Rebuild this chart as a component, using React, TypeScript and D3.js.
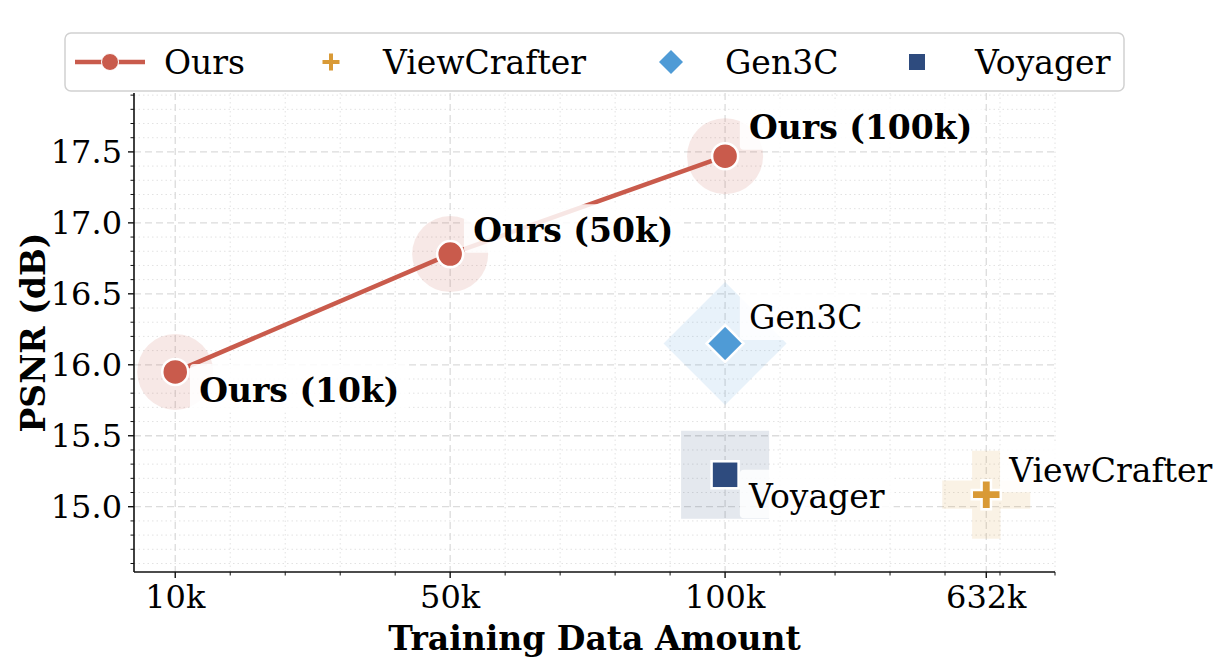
import React from "react";
import * as d3 from "d3";

// data
const tickLabels = ["10k", "50k", "100k", "632k"];
const tickPos = [0, 1, 2, 2.95];

const oursX = [0, 1, 2];
const oursY = [15.95, 16.78, 17.47];
const oursLabels = ["Ours (10k)", "Ours (50k)", "Ours (100k)"];
const oursOffsets = [
  [24, 30],
  [23, -12],
  [24, -17],
];

const baseNames = ["ViewCrafter", "Gen3C", "Voyager"];
const baseX = [2.95, 2, 2];
const baseY = [15.085, 16.15, 15.225];
const baseShapes = ["plus", "diamond", "square"];
const baseColors = ["#D99A36", "#4F9BD6", "#2E4B7E"];
const baseOffsets = [
  [23, -13],
  [24, -14],
  [24, 33],
];

const OURS = "#C95B4C";
const FONT = "DejaVu Serif";
const FS = 33; // annotations, legend, titles
const TFS = 32; // tick labels

const W = 1224;
const H = 664;
const m = { left: 134, right: 1055, top: 93, bottom: 572 };

function plusPath(size: number, arm: number) {
  const s = size / 2;
  const a = arm / 2;
  return `M${-a},${-s}H${a}V${-a}H${s}V${a}H${a}V${s}H${-a}V${a}H${-s}V${-a}H${-a}Z`;
}

function Marker({ shape, cx, cy, size, fill, stroke, sw, opacity }: any) {
  const t = `translate(${cx},${cy})`;
  if (shape === "circle")
    return <circle cx={cx} cy={cy} r={size / 2} fill={fill} stroke={stroke} strokeWidth={sw} opacity={opacity} />;
  if (shape === "square")
    return <rect x={cx - size / 2} y={cy - size / 2} width={size} height={size} fill={fill} stroke={stroke} strokeWidth={sw} opacity={opacity} />;
  if (shape === "diamond") {
    const s = size / 2;
    return <path transform={t} d={`M0,${-s}L${s},0L0,${s}L${-s},0Z`} fill={fill} stroke={stroke} strokeWidth={sw} opacity={opacity} />;
  }
  return <path transform={t} d={plusPath(size, size / 3.1)} fill={fill} stroke={stroke} strokeWidth={sw} opacity={opacity} />;
}

function Label({ x, y, text, bold }: any) {
  const ref = React.useRef<SVGTextElement>(null);
  const [w, setW] = React.useState(0);
  React.useLayoutEffect(() => {
    if (ref.current) setW(ref.current.getComputedTextLength());
  }, [text]);
  const pad = 0.28 * FS;
  return (
    <g>
      {w > 0 && (
        <rect x={x - pad} y={y - 1.15 * FS} width={w + 2 * pad} height={1.47 * FS} rx={4} fill="white" opacity={0.85} />
      )}
      <text ref={ref} x={x} y={y} fontFamily={FONT} fontSize={FS} fontWeight={bold ? "bold" : "normal"} fill="#000">
        {text}
      </text>
    </g>
  );
}

export default function App() {
  const x = d3.scaleLinear().domain([-0.15, 3.2]).range([m.left, m.right]);
  const y = d3.scaleLinear().domain([14.54, 17.915]).range([m.bottom, m.top]);

  const yMajor = d3.range(15, 17.51, 0.5);
  const yMinor = d3.range(14.6, 17.91, 0.1).filter((v) => yMajor.every((t) => Math.abs(t - v) > 0.01));
  const xMinor = d3.range(0, 3.21, 0.2);
  const xMinorF = xMinor.filter((v) => tickPos.every((t) => Math.abs(t - v) > 0.01));

  const line = d3
    .line<number>()
    .x((_, i) => x(oursX[i]))
    .y((d) => y(d));

  return (
    <svg width={W} height={H} style={{ position: "absolute", left: 0, top: 0 }}>
      <rect width={W} height={H} fill="white" />
      {/* grid */}
      <g>
        {yMinor.map((v) => (
          <line key={"ym" + v} x1={m.left} x2={m.right} y1={y(v)} y2={y(v)} stroke="#e2e2e2" strokeWidth={1} strokeDasharray="1.5,3" />
        ))}
        {xMinorF.map((v) => (
          <line key={"xm" + v} y1={m.top} y2={m.bottom} x1={x(v)} x2={x(v)} stroke="#e2e2e2" strokeWidth={1} strokeDasharray="1.5,3" />
        ))}
        {yMajor.map((v) => (
          <line key={"yM" + v} x1={m.left} x2={m.right} y1={y(v)} y2={y(v)} stroke="#dcdcdc" strokeWidth={1.3} strokeDasharray="7,4" />
        ))}
        {tickPos.map((v) => (
          <line key={"xM" + v} y1={m.top} y2={m.bottom} x1={x(v)} x2={x(v)} stroke="#dcdcdc" strokeWidth={1.3} strokeDasharray="7,4" />
        ))}
      </g>

      {/* halos */}
      {oursY.map((v, i) => (
        <Marker key={"oh" + i} shape="circle" cx={x(oursX[i])} cy={y(v)} size={76} fill={OURS} opacity={0.14} />
      ))}
      {baseNames.map((n, i) => (
        <Marker
          key={"bh" + n}
          shape={baseShapes[i]}
          cx={x(baseX[i])}
          cy={y(baseY[i])}
          size={baseShapes[i] === "diamond" ? 123 : 88}
          fill={baseColors[i]}
          opacity={0.13}
        />
      ))}

      <path d={line(oursY) || ""} fill="none" stroke={OURS} strokeWidth={4.5} />

      {/* labels with boxes */}
      {oursY.map((v, i) => (
        <Label key={"ol" + i} x={x(oursX[i]) + oursOffsets[i][0]} y={y(v) + oursOffsets[i][1]} text={oursLabels[i]} bold />
      ))}
      {baseNames.map((n, i) => (
        <Label key={"bl" + n} x={x(baseX[i]) + baseOffsets[i][0]} y={y(baseY[i]) + baseOffsets[i][1]} text={n} />
      ))}

      {/* markers */}
      {oursY.map((v, i) => (
        <Marker key={"om" + i} shape="circle" cx={x(oursX[i])} cy={y(v)} size={26} fill={OURS} stroke="white" sw={2.5} />
      ))}
      {baseNames.map((n, i) => (
        <Marker
          key={"bm" + n}
          shape={baseShapes[i]}
          cx={x(baseX[i])}
          cy={y(baseY[i])}
          size={baseShapes[i] === "diamond" ? 37 : baseShapes[i] === "square" ? 27 : 29}
          fill={baseColors[i]}
          stroke="white"
          sw={2.5}
        />
      ))}

      {/* axes */}
      <line x1={m.left} x2={m.left} y1={m.top} y2={m.bottom} stroke="#111" strokeWidth={1.6} />
      <line x1={m.left} x2={m.right} y1={m.bottom} y2={m.bottom} stroke="#111" strokeWidth={1.6} />
      {yMajor.map((v) => (
        <g key={"yt" + v}>
          <line x1={m.left - 6} x2={m.left} y1={y(v)} y2={y(v)} stroke="#111" strokeWidth={1.4} />
          <text x={m.left - 12} y={y(v)} dy="0.36em" textAnchor="end" fontFamily={FONT} fontSize={TFS} fill="#000">
            {v.toFixed(1)}
          </text>
        </g>
      ))}
      {yMinor.map((v) => (
        <line key={"ytm" + v} x1={m.left - 3.5} x2={m.left} y1={y(v)} y2={y(v)} stroke="#111" strokeWidth={1} />
      ))}
      {tickPos.map((v, i) => (
        <g key={"xt" + v}>
          <line x1={x(v)} x2={x(v)} y1={m.bottom} y2={m.bottom + 6} stroke="#111" strokeWidth={1.4} />
          <text x={x(v)} y={m.bottom + 12} dy="0.76em" textAnchor="middle" fontFamily={FONT} fontSize={TFS} fill="#000">
            {tickLabels[i]}
          </text>
        </g>
      ))}
      {xMinorF.map((v) => (
        <line key={"xtm" + v} x1={x(v)} x2={x(v)} y1={m.bottom} y2={m.bottom + 3.5} stroke="#111" strokeWidth={1} />
      ))}
      <text x={(m.left + m.right) / 2} y={650} textAnchor="middle" fontFamily={FONT} fontSize={FS} fontWeight="bold">
        Training Data Amount
      </text>
      <text
        transform={`translate(${45},${(m.top + m.bottom) / 2}) rotate(-90)`}
        textAnchor="middle"
        fontFamily={FONT}
        fontSize={FS}
        fontWeight="bold"
      >
        PSNR (dB)
      </text>

      {/* legend */}
      <g>
        <rect x={65} y={33} width={1059} height={58} rx={6} fill="white" stroke="#cfcfcf" strokeWidth={1.5} opacity={0.95} />
        <line x1={75} x2={145} y1={62} y2={62} stroke={OURS} strokeWidth={4.5} />
        <circle cx={110} cy={62} r={8.5} fill={OURS} stroke="white" strokeWidth={1} />
        <text x={164} y={62} dy="0.36em" fontFamily={FONT} fontSize={FS}>Ours</text>
        <path transform={`translate(331,62)`} d={plusPath(17, 4)} fill={baseColors[0]} />
        <text x={383} y={62} dy="0.36em" fontFamily={FONT} fontSize={FS}>{baseNames[0]}</text>
        <path transform={`translate(671,62)`} d="M0,-12L12,0L0,12L-12,0Z" fill={baseColors[1]} />
        <text x={725} y={62} dy="0.36em" fontFamily={FONT} fontSize={FS}>{baseNames[1]}</text>
        <rect x={909} y={54} width={16} height={16} fill={baseColors[2]} />
        <text x={975} y={62} dy="0.36em" fontFamily={FONT} fontSize={FS}>{baseNames[2]}</text>
      </g>
    </svg>
  );
}
